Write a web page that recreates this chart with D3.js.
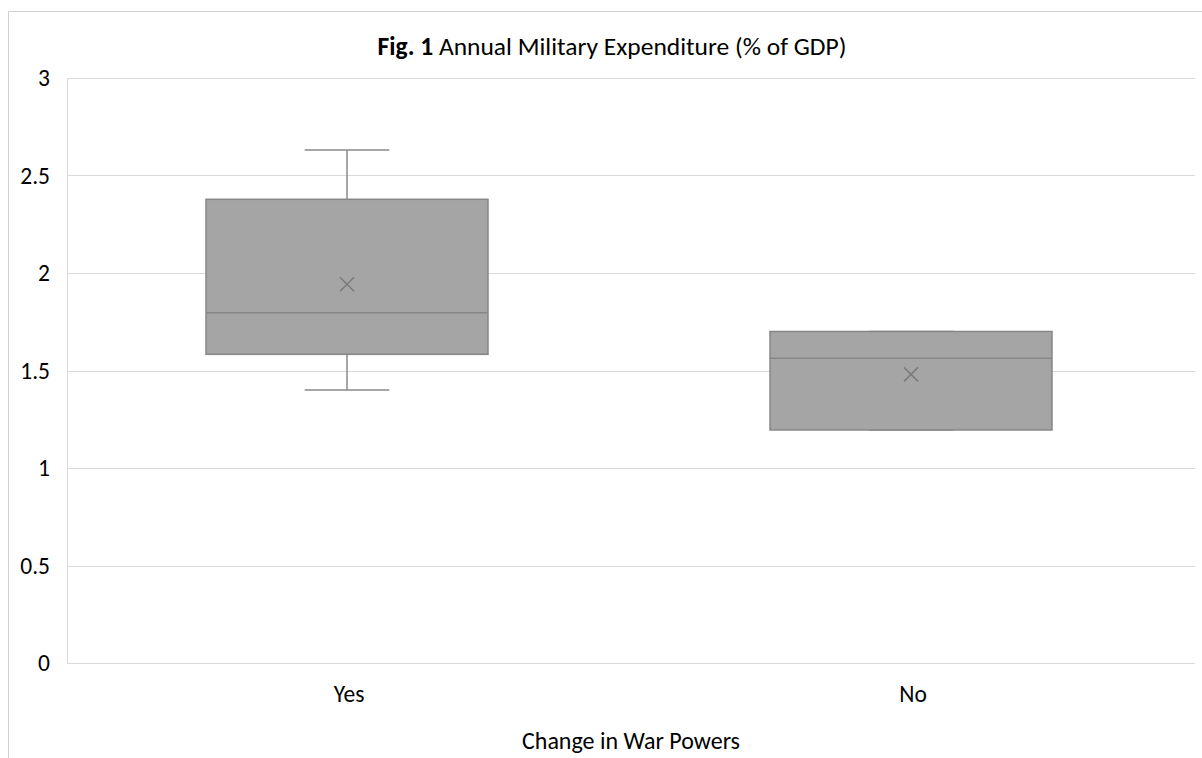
<!DOCTYPE html>
<html>
<head>
<meta charset="utf-8">
<script src="https://cdn.jsdelivr.net/npm/d3@7"></script>
<style>
  html, body { margin: 0; padding: 0; background: #fff; }
  svg { display: block; }
  text { font-family: Carlito, Lato, "Open Sans", sans-serif; }
</style>
</head>
<body>
<svg id="chart" width="1202" height="758"></svg>
<script>
// Box-plot summaries per group (% of GDP)
const categories = ["Yes", "No"];
const whiskerLow = [1.40, 1.195];
const q1 = [1.583, 1.195];
const median = [1.796, 1.563];
const q3 = [2.378, 1.70];
const whiskerHigh = [2.631, 1.70];
const mean = [1.942, 1.48];
const yTicks = [0, 0.5, 1, 1.5, 2, 2.5, 3];

const titleBold = "Fig. 1";
const titleRest = " Annual Military Expenditure (% of GDP)";
const xTitle = "Change in War Powers";

const rows = categories.map((c, i) => ({
  cat: c, lo: whiskerLow[i], q1: q1[i], med: median[i], q3: q3[i], hi: whiskerHigh[i], mean: mean[i]
}));

const svg = d3.select("#chart");
const plot = { left: 67, right: 1195, top: 78, bottom: 663 };
const fontStack = "Carlito, Lato, 'Open Sans', sans-serif";

const x = d3.scaleBand().domain(categories).range([plot.left, plot.right]).padding(0);
const y = d3.scaleLinear().domain([0, 3]).range([plot.bottom, plot.top]);

// chart frame (left and top edges)
svg.append("path")
  .attr("d", "M8.5,758 V11.5 H1202")
  .attr("fill", "none")
  .attr("stroke", "#d0d0d0")
  .attr("stroke-width", 1);

// title
const title = svg.append("text")
  .attr("x", 612).attr("y", 55)
  .attr("text-anchor", "middle")
  .attr("font-size", 25.5)
  .attr("fill", "#000");
title.append("tspan").attr("font-weight", "bold").text(titleBold);
title.append("tspan").text(titleRest);

// horizontal gridlines
svg.append("g")
  .selectAll("line")
  .data(yTicks)
  .join("line")
  .attr("x1", plot.left).attr("x2", plot.right)
  .attr("y1", d => Math.round(y(d)) + 0.5).attr("y2", d => Math.round(y(d)) + 0.5)
  .attr("stroke", "#d9d9d9").attr("stroke-width", 1);

// left edge of the plot area
svg.append("line")
  .attr("x1", plot.left + 0.5).attr("x2", plot.left + 0.5)
  .attr("y1", plot.top).attr("y2", plot.bottom)
  .attr("stroke", "#d9d9d9");

// y axis labels
const yAxis = d3.axisLeft(y).tickValues(yTicks).tickSize(0).tickPadding(0)
  .tickFormat(d3.format("~g"));
const yg = svg.append("g").attr("transform", `translate(${plot.left - 17},0)`).call(yAxis);
yg.select(".domain").remove();
yg.selectAll("text")
  .attr("font-size", 23.5)
  .attr("font-family", fontStack)
  .attr("fill", "#000");

// x axis labels
const xAxis = d3.axisBottom(x).tickSize(0).tickPadding(0);
const xg = svg.append("g").attr("transform", `translate(0,${plot.bottom + 22})`).call(xAxis);
xg.select(".domain").remove();
xg.selectAll("text")
  .attr("font-size", 23.5)
  .attr("font-family", fontStack)
  .attr("fill", "#000");

// x axis title
svg.append("text")
  .attr("x", (plot.left + plot.right) / 2).attr("y", 749)
  .attr("text-anchor", "middle")
  .attr("font-size", 24)
  .attr("fill", "#000")
  .text(xTitle);

// boxes
const boxW = x.bandwidth() * 0.5;
const capW = boxW * 0.3;
const strokeC = "#8a8a8a";

const g = svg.append("g").selectAll("g").data(rows).join("g")
  .attr("transform", d => `translate(${x(d.cat) + x.bandwidth() / 2 - 2},0)`);

// whiskers
g.append("line")
  .attr("x1", 0).attr("x2", 0)
  .attr("y1", d => y(d.hi)).attr("y2", d => y(d.q3))
  .attr("stroke", strokeC).attr("stroke-width", 1.5);
g.append("line")
  .attr("x1", 0).attr("x2", 0)
  .attr("y1", d => y(d.q1)).attr("y2", d => y(d.lo))
  .attr("stroke", strokeC).attr("stroke-width", 1.5);
g.append("line")
  .attr("x1", -capW / 2).attr("x2", capW / 2)
  .attr("y1", d => y(d.hi)).attr("y2", d => y(d.hi))
  .attr("stroke", strokeC).attr("stroke-width", 1.5);
g.append("line")
  .attr("x1", -capW / 2).attr("x2", capW / 2)
  .attr("y1", d => y(d.lo)).attr("y2", d => y(d.lo))
  .attr("stroke", strokeC).attr("stroke-width", 1.5);

// box body
g.append("rect")
  .attr("x", -boxW / 2).attr("width", boxW)
  .attr("y", d => y(d.q3)).attr("height", d => y(d.q1) - y(d.q3))
  .attr("fill", "#a5a5a5")
  .attr("stroke", "#868686").attr("stroke-width", 1.5);

// median
g.append("line")
  .attr("x1", -boxW / 2).attr("x2", boxW / 2)
  .attr("y1", d => y(d.med)).attr("y2", d => y(d.med))
  .attr("stroke", "#868686").attr("stroke-width", 1.5);

// mean marker
const m = 7;
g.append("path")
  .attr("d", d => `M${-m},${y(d.mean) - m} L${m},${y(d.mean) + m} M${-m},${y(d.mean) + m} L${m},${y(d.mean) - m}`)
  .attr("stroke", "#7b7b7b").attr("stroke-width", 1.5).attr("fill", "none");
</script>
</body>
</html>
